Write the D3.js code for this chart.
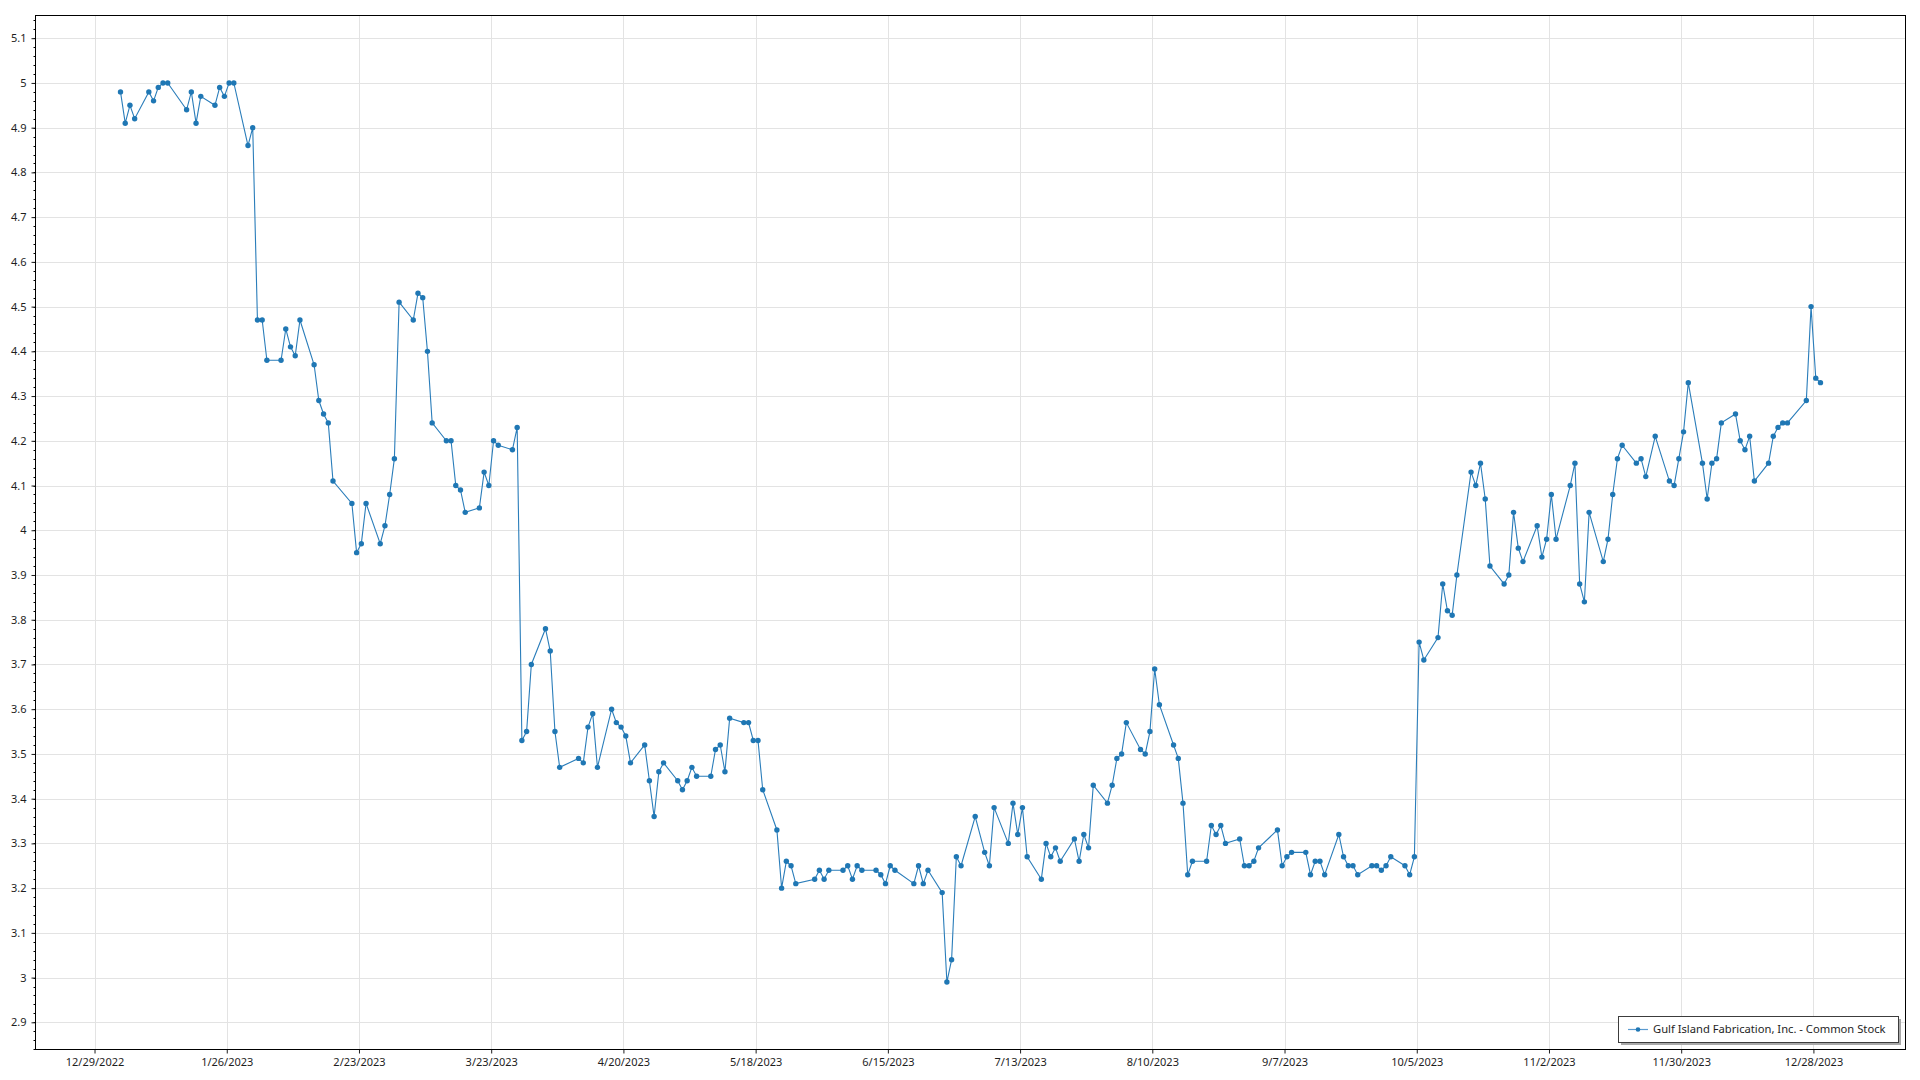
<!DOCTYPE html>
<html><head><meta charset="utf-8">
<script src="https://cdn.jsdelivr.net/npm/d3@7"></script>
<style>
body{margin:0;background:#fff}
svg{display:block}
text{font-family:"Segoe UI","Noto Sans",sans-serif}
</style>
</head><body>
<svg id="chart" width="1920" height="1080"></svg>
<script>
const seriesName = "Gulf Island Fabrication, Inc. - Common Stock";

const dates = [
"2023-01-03","2023-01-04","2023-01-05","2023-01-06","2023-01-09","2023-01-10","2023-01-11","2023-01-12","2023-01-13","2023-01-17","2023-01-18","2023-01-19","2023-01-20","2023-01-23","2023-01-24","2023-01-25","2023-01-26","2023-01-27","2023-01-30","2023-01-31",
"2023-02-01","2023-02-02","2023-02-03","2023-02-06","2023-02-07","2023-02-08","2023-02-09","2023-02-10","2023-02-13","2023-02-14","2023-02-15","2023-02-16","2023-02-17","2023-02-21","2023-02-22","2023-02-23","2023-02-24","2023-02-27","2023-02-28",
"2023-03-01","2023-03-02","2023-03-03","2023-03-06","2023-03-07","2023-03-08","2023-03-09","2023-03-10","2023-03-13","2023-03-14","2023-03-15","2023-03-16","2023-03-17","2023-03-20","2023-03-21","2023-03-22","2023-03-23","2023-03-24","2023-03-27","2023-03-28","2023-03-29","2023-03-30","2023-03-31",
"2023-04-03","2023-04-04","2023-04-05","2023-04-06","2023-04-10","2023-04-11","2023-04-12","2023-04-13","2023-04-14","2023-04-17","2023-04-18","2023-04-19","2023-04-20","2023-04-21","2023-04-24","2023-04-25","2023-04-26","2023-04-27","2023-04-28",
"2023-05-01","2023-05-02","2023-05-03","2023-05-04","2023-05-05","2023-05-08","2023-05-09","2023-05-10","2023-05-11","2023-05-12","2023-05-15","2023-05-16","2023-05-17","2023-05-18","2023-05-19","2023-05-22","2023-05-23","2023-05-24","2023-05-25","2023-05-26","2023-05-30","2023-05-31",
"2023-06-01","2023-06-02","2023-06-05","2023-06-06","2023-06-07","2023-06-08","2023-06-09","2023-06-12","2023-06-13","2023-06-14","2023-06-15","2023-06-16","2023-06-20","2023-06-21","2023-06-22","2023-06-23","2023-06-26","2023-06-27","2023-06-28","2023-06-29","2023-06-30",
"2023-07-03","2023-07-05","2023-07-06","2023-07-07","2023-07-10","2023-07-11","2023-07-12","2023-07-13","2023-07-14","2023-07-17","2023-07-18","2023-07-19","2023-07-20","2023-07-21","2023-07-24","2023-07-25","2023-07-26","2023-07-27","2023-07-28","2023-07-31",
"2023-08-01","2023-08-02","2023-08-03","2023-08-04","2023-08-07","2023-08-08","2023-08-09","2023-08-10","2023-08-11","2023-08-14","2023-08-15","2023-08-16","2023-08-17","2023-08-18","2023-08-21","2023-08-22","2023-08-23","2023-08-24","2023-08-25","2023-08-28","2023-08-29","2023-08-30","2023-08-31",
"2023-09-01","2023-09-05","2023-09-06","2023-09-07","2023-09-08","2023-09-11","2023-09-12","2023-09-13","2023-09-14","2023-09-15","2023-09-18","2023-09-19","2023-09-20","2023-09-21","2023-09-22","2023-09-25","2023-09-26","2023-09-27","2023-09-28","2023-09-29",
"2023-10-02","2023-10-03","2023-10-04","2023-10-05","2023-10-06","2023-10-09","2023-10-10","2023-10-11","2023-10-12","2023-10-13","2023-10-16","2023-10-17","2023-10-18","2023-10-19","2023-10-20","2023-10-23","2023-10-24","2023-10-25","2023-10-26","2023-10-27","2023-10-30","2023-10-31",
"2023-11-01","2023-11-02","2023-11-03","2023-11-06","2023-11-07","2023-11-08","2023-11-09","2023-11-10","2023-11-13","2023-11-14","2023-11-15","2023-11-16","2023-11-17","2023-11-20","2023-11-21","2023-11-22","2023-11-24","2023-11-27","2023-11-28","2023-11-29","2023-11-30",
"2023-12-01","2023-12-04","2023-12-05","2023-12-06","2023-12-07","2023-12-08","2023-12-11","2023-12-12","2023-12-13","2023-12-14","2023-12-15","2023-12-18","2023-12-19","2023-12-20","2023-12-21","2023-12-22","2023-12-26","2023-12-27","2023-12-28","2023-12-29"
];

const closes = [
4.98,4.91,4.95,4.92,4.98,4.96,4.99,5.00,5.00,4.94,4.98,4.91,4.97,4.95,4.99,4.97,5.00,5.00,4.86,4.90,
4.47,4.47,4.38,4.38,4.45,4.41,4.39,4.47,4.37,4.29,4.26,4.24,4.11,4.06,3.95,3.97,4.06,3.97,4.01,
4.08,4.16,4.51,4.47,4.53,4.52,4.40,4.24,4.20,4.20,4.10,4.09,4.04,4.05,4.13,4.10,4.20,4.19,4.18,4.23,3.53,3.55,3.70,
3.78,3.73,3.55,3.47,3.49,3.48,3.56,3.59,3.47,3.60,3.57,3.56,3.54,3.48,3.52,3.44,3.36,3.46,3.48,
3.44,3.42,3.44,3.47,3.45,3.45,3.51,3.52,3.46,3.58,3.57,3.57,3.53,3.53,3.42,3.33,3.20,3.26,3.25,3.21,3.22,3.24,
3.22,3.24,3.24,3.25,3.22,3.25,3.24,3.24,3.23,3.21,3.25,3.24,3.21,3.25,3.21,3.24,3.19,2.99,3.04,3.27,3.25,
3.36,3.28,3.25,3.38,3.30,3.39,3.32,3.38,3.27,3.22,3.30,3.27,3.29,3.26,3.31,3.26,3.32,3.29,3.43,3.39,
3.43,3.49,3.50,3.57,3.51,3.50,3.55,3.69,3.61,3.52,3.49,3.39,3.23,3.26,3.26,3.34,3.32,3.34,3.30,3.31,3.25,3.25,3.26,
3.29,3.33,3.25,3.27,3.28,3.28,3.23,3.26,3.26,3.23,3.32,3.27,3.25,3.25,3.23,3.25,3.25,3.24,3.25,3.27,
3.25,3.23,3.27,3.75,3.71,3.76,3.88,3.82,3.81,3.90,4.13,4.10,4.15,4.07,3.92,3.88,3.90,4.04,3.96,3.93,4.01,3.94,
3.98,4.08,3.98,4.10,4.15,3.88,3.84,4.04,3.93,3.98,4.08,4.16,4.19,4.15,4.16,4.12,4.21,4.11,4.10,4.16,4.22,
4.33,4.15,4.07,4.15,4.16,4.24,4.26,4.20,4.18,4.21,4.11,4.15,4.21,4.23,4.24,4.24,4.29,4.50,4.34,4.33
];

const xTickDates = ["2022-12-29","2023-01-26","2023-02-23","2023-03-23","2023-04-20","2023-05-18","2023-06-15","2023-07-13","2023-08-10","2023-09-07","2023-10-05","2023-11-02","2023-11-30","2023-12-28"];
const yTickValues = [2.9,3.0,3.1,3.2,3.3,3.4,3.5,3.6,3.7,3.8,3.9,4.0,4.1,4.2,4.3,4.4,4.5,4.6,4.7,4.8,4.9,5.0,5.1];

const L = 35.5, R = 1905.5, T = 15.5, B = 1049.5;
const svg = d3.select("#chart");
const parse = d3.utcParse("%Y-%m-%d");
const data = dates.map((d, i) => ({date: d3.utcHour.offset(parse(d), 12), value: closes[i]}));

const xe = d3.extent(data, d => d.date);
const xs = xe[1] - xe[0];
const x = d3.scaleUtc()
  .domain([new Date(+xe[0] - xs * 0.05), new Date(+xe[1] + xs * 0.05)])
  .range([L, R]);
const ye = d3.extent(closes);
const ysp = ye[1] - ye[0];
const y = d3.scaleLinear()
  .domain([ye[0] - ysp * 0.075, ye[1] + ysp * 0.075])
  .range([B, T]);

const xTicks = xTickDates.map(parse);

// grid
const grid = svg.append("g").attr("stroke", "#e3e3e3").attr("stroke-width", 1);
grid.selectAll("line.h").data(yTickValues).join("line")
  .attr("x1", L).attr("x2", R)
  .attr("y1", d => Math.round(y(d)) + 0.5).attr("y2", d => Math.round(y(d)) + 0.5);
grid.selectAll("line.v").data(xTicks).join("line")
  .attr("y1", T).attr("y2", B)
  .attr("x1", d => Math.round(x(d)) + 0.5).attr("x2", d => Math.round(x(d)) + 0.5);

// minor y ticks
const yDom = y.domain();
const minor = d3.range(Math.ceil(yDom[0] * 50), Math.floor(yDom[1] * 50) + 1).map(v => v / 50);
svg.append("g").attr("stroke", "#000").selectAll("line").data(minor).join("line")
  .attr("x1", L - 2).attr("x2", L)
  .attr("y1", d => Math.round(y(d)) + 0.5).attr("y2", d => Math.round(y(d)) + 0.5);

// axes
const yAxis = svg.append("g").attr("transform", `translate(${L},0)`)
  .call(d3.axisLeft(y).tickValues(yTickValues).tickSize(4).tickPadding(5).tickFormat(d3.format("")));
const xAxis = svg.append("g").attr("transform", `translate(0,${B})`)
  .call(d3.axisBottom(x).tickValues(xTicks).tickSize(4).tickPadding(5).tickFormat(d3.utcFormat("%-m/%-d/%Y")));
[yAxis, xAxis].forEach(a => {
  a.select(".domain").remove();
  a.attr("color", "#1e1e1e").selectAll("text").attr("font-size", 11).attr("font-family", '"Segoe UI","Noto Sans",sans-serif');
});

// frame
svg.append("rect").attr("x", L).attr("y", T).attr("width", R - L).attr("height", B - T)
  .attr("fill", "none").attr("stroke", "#000").attr("stroke-width", 1);

// series
const line = d3.line().x(d => x(d.date)).y(d => y(d.value));
svg.append("path").datum(data).attr("d", line)
  .attr("fill", "none").attr("stroke", "#2a7dba").attr("stroke-width", 1.1);
svg.append("g").attr("fill", "#1f77b4").selectAll("circle").data(data).join("circle")
  .attr("cx", d => x(d.date)).attr("cy", d => y(d.value)).attr("r", 2.7);

// legend
const lg = svg.append("g");
lg.append("rect").attr("x", 1621).attr("y", 1019).attr("width", 280).attr("height", 26).attr("fill", "#a8a8a8");
lg.append("rect").attr("x", 1618.5).attr("y", 1016.5).attr("width", 280).attr("height", 26)
  .attr("fill", "#fff").attr("stroke", "#3c3c3c").attr("stroke-width", 1);
lg.append("line").attr("x1", 1628).attr("x2", 1648).attr("y1", 1029.5).attr("y2", 1029.5)
  .attr("stroke", "#5b9bd0").attr("stroke-width", 1.2);
lg.append("circle").attr("cx", 1638).attr("cy", 1029.5).attr("r", 2.3).attr("fill", "#1f77b4");
lg.append("text").attr("x", 1653).attr("y", 1029.5).attr("dy", "0.35em")
  .attr("font-size", 11.2).attr("fill", "#1e1e1e").text(seriesName);
</script>
</body></html>
